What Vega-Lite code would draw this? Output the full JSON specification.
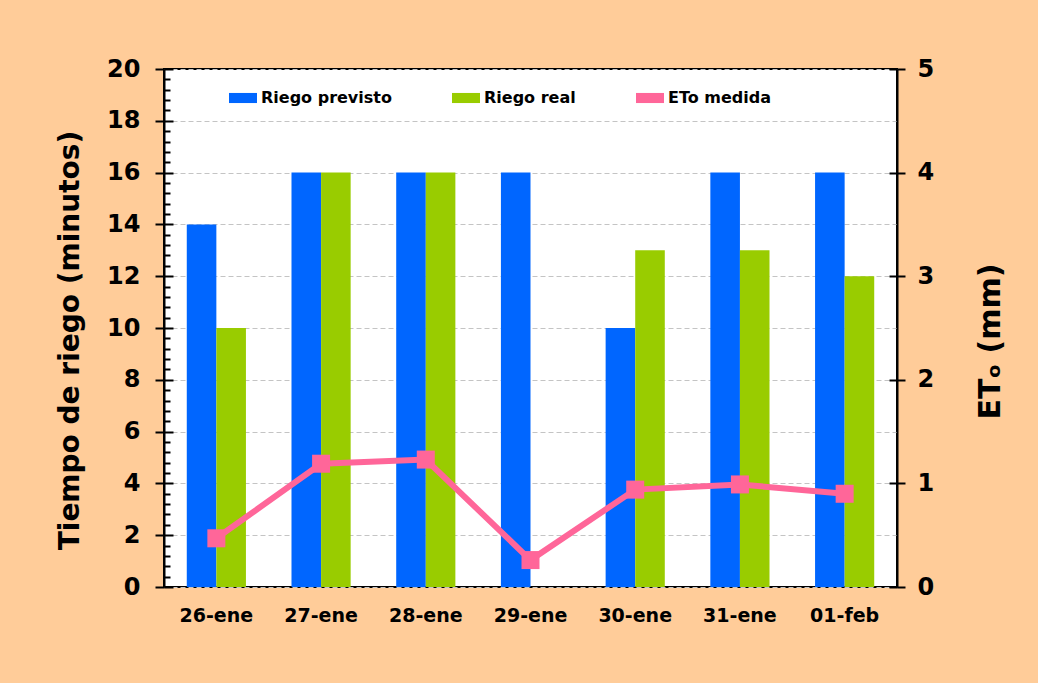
{
  "$schema": "https://vega.github.io/schema/vega-lite/v6.json",
  "width": 733,
  "height": 518,
  "autosize": {"type": "none"},
  "padding": {"left": 164, "top": 69, "right": 141, "bottom": 96},
  "background": "#FFCC99",
  "config": {
    "font": "DejaVu Sans",
    "view": {"fill": "white", "stroke": "black", "strokeWidth": 2},
    "axis": {"labelFont": "DejaVu Sans", "titleFont": "DejaVu Sans", "labelFontWeight": "bold", "titleFontWeight": "bold", "labelColor": "black", "titleColor": "black", "tickColor": "black", "domainColor": "black"},
    "axisX": {"title": null, "labelAngle": 0, "labelFontSize": 19, "labelPadding": 19, "ticks": false, "tickSize": 0, "domain": false, "grid": false},
    "legend": {"labelFont": "DejaVu Sans"}
  },
  "datasets": {
    "riego": [
      {"fecha": "26-ene", "serie": "Riego previsto", "minutos": 14},
      {"fecha": "26-ene", "serie": "Riego real", "minutos": 10},
      {"fecha": "27-ene", "serie": "Riego previsto", "minutos": 16},
      {"fecha": "27-ene", "serie": "Riego real", "minutos": 16},
      {"fecha": "28-ene", "serie": "Riego previsto", "minutos": 16},
      {"fecha": "28-ene", "serie": "Riego real", "minutos": 16},
      {"fecha": "29-ene", "serie": "Riego previsto", "minutos": 16},
      {"fecha": "30-ene", "serie": "Riego previsto", "minutos": 10},
      {"fecha": "30-ene", "serie": "Riego real", "minutos": 13},
      {"fecha": "31-ene", "serie": "Riego previsto", "minutos": 16},
      {"fecha": "31-ene", "serie": "Riego real", "minutos": 13},
      {"fecha": "01-feb", "serie": "Riego previsto", "minutos": 16},
      {"fecha": "01-feb", "serie": "Riego real", "minutos": 12}
    ],
    "eto": [
      {"fecha": "26-ene", "eto": 0.47},
      {"fecha": "27-ene", "eto": 1.19},
      {"fecha": "28-ene", "eto": 1.23},
      {"fecha": "29-ene", "eto": 0.26},
      {"fecha": "30-ene", "eto": 0.94},
      {"fecha": "31-ene", "eto": 0.99},
      {"fecha": "01-feb", "eto": 0.9}
    ]
  },
  "layer": [
    {
      "data": {"name": "riego"},
      "layer": [
        {
          "mark": {"type": "bar"},
          "encoding": {
            "x": {
              "field": "fecha", "type": "nominal", "title": null,
              "scale": {"type": "band", "domain": ["26-ene", "27-ene", "28-ene", "29-ene", "30-ene", "31-ene", "01-feb"], "paddingInner": 0.435, "paddingOuter": 0.2175}
            },
            "xOffset": {"field": "serie", "type": "nominal", "scale": {"domain": ["Riego previsto", "Riego real"], "paddingInner": 0, "paddingOuter": 0}},
            "y": {
              "field": "minutos", "type": "quantitative",
              "scale": {"domain": [0, 20], "nice": false},
              "axis": {"orient": "left", "values": [0, 2, 4, 6, 8, 10, 12, 14, 16, 18, 20], "tickSize": 9, "tickWidth": 2, "labelFontSize": 24, "labelPadding": 15, "domain": true, "domainWidth": 2, "grid": true, "gridDash": [5, 3], "gridColor": "#C4C4C4", "gridWidth": 1, "title": "Tiempo de riego (minutos)", "titleFontSize": 28, "titlePadding": 22, "titleY": 271}
            },
            "color": {
              "field": "serie", "type": "nominal",
              "scale": {"domain": ["Riego previsto", "Riego real", "ETo medida"], "range": ["#0066FF", "#99CC00", "#FF6699"]},
              "legend": {"title": null, "orient": "none", "legendX": 65, "legendY": 15, "direction": "horizontal", "labelFontSize": 16, "labelFontWeight": "bold", "labelColor": "black", "symbolType": "M-1,-0.36H1V0.36H-1Z", "symbolSize": 784, "symbolStrokeWidth": 0, "columnPadding": 60, "labelOffset": 4, "padding": 0}
            }
          }
        },
        {
          "mark": {"type": "bar", "opacity": 0},
          "encoding": {
            "x": {"field": "fecha", "type": "nominal", "title": null, "scale": {"type": "band", "domain": ["26-ene", "27-ene", "28-ene", "29-ene", "30-ene", "31-ene", "01-feb"], "paddingInner": 0.435, "paddingOuter": 0.2175}},
            "xOffset": {"field": "serie", "type": "nominal", "scale": {"domain": ["Riego previsto", "Riego real"], "paddingInner": 0, "paddingOuter": 0}},
            "y": {
              "field": "minutos", "type": "quantitative",
              "scale": {"domain": [0, 20], "nice": false},
              "axis": {"orient": "left", "values": [0, 0.4, 0.8, 1.2, 1.6, 2, 2.4, 2.8, 3.2, 3.6, 4, 4.4, 4.8, 5.2, 5.6, 6, 6.4, 6.8, 7.2, 7.6, 8, 8.4, 8.8, 9.2, 9.6, 10, 10.4, 10.8, 11.2, 11.6, 12, 12.4, 12.8, 13.2, 13.6, 14, 14.4, 14.8, 15.2, 15.6, 16, 16.4, 16.8, 17.2, 17.6, 18, 18.4, 18.8, 19.2, 19.6, 20], "tickSize": {"condition": {"test": "datum.value % 2 === 0", "value": -9}, "value": -6}, "tickWidth": 2, "labels": false, "domain": false, "grid": false, "title": null}
            }
          }
        },
        {
          "mark": {"type": "bar", "opacity": 0},
          "encoding": {
            "x": {"field": "fecha", "type": "nominal", "title": null, "scale": {"type": "band", "domain": ["26-ene", "27-ene", "28-ene", "29-ene", "30-ene", "31-ene", "01-feb"], "paddingInner": 0.435, "paddingOuter": 0.2175}},
            "xOffset": {"field": "serie", "type": "nominal", "scale": {"domain": ["Riego previsto", "Riego real"], "paddingInner": 0, "paddingOuter": 0}},
            "y": {
              "field": "minutos", "type": "quantitative",
              "scale": {"domain": [0, 20], "nice": false},
              "axis": {"orient": "right", "values": [0, 4, 8, 12, 16, 20], "tickSize": -8, "tickWidth": 2, "labels": false, "domain": false, "grid": false, "title": null}
            }
          }
        }
      ],
      "resolve": {"axis": {"y": "independent"}}
    },
    {
      "data": {"name": "eto"},
      "mark": {"type": "line", "color": "#FF6699", "strokeWidth": 6, "point": {"shape": "square", "size": 324, "filled": true, "color": "#FF6699", "opacity": 1}},
      "encoding": {
        "x": {"field": "fecha", "type": "nominal", "title": null, "scale": {"type": "band", "domain": ["26-ene", "27-ene", "28-ene", "29-ene", "30-ene", "31-ene", "01-feb"], "paddingInner": 0.435, "paddingOuter": 0.2175}},
        "y": {
          "field": "eto", "type": "quantitative",
          "scale": {"domain": [0, 5], "nice": false},
          "axis": {"orient": "right", "values": [0, 1, 2, 3, 4, 5], "tickSize": 8, "tickWidth": 2, "labelFontSize": 24, "labelPadding": 12, "domain": true, "domainWidth": 2, "grid": false, "title": "ETₒ (mm)", "titleFontSize": 30, "titleAngle": -90, "titleBaseline": "top", "titlePadding": 42, "titleY": 272}
        }
      }
    }
  ],
  "resolve": {"scale": {"y": "independent"}}
}
